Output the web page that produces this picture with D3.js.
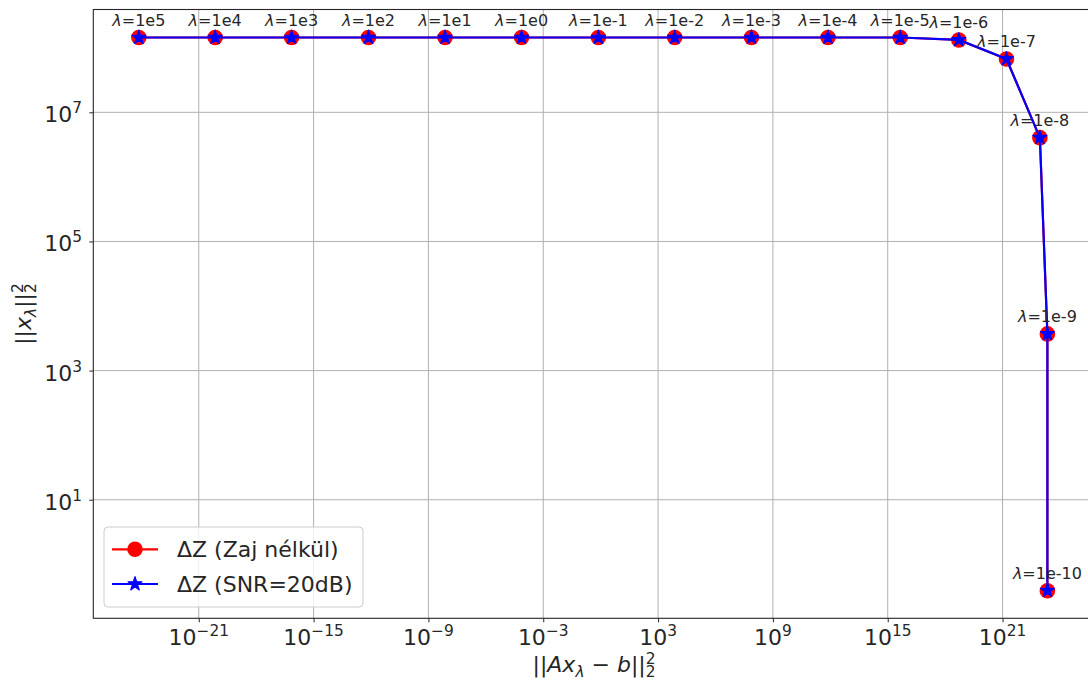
<!DOCTYPE html>
<html>
<head>
<meta charset="utf-8">
<script src="https://cdn.jsdelivr.net/npm/d3@7"></script>
<style>
    body { margin: 0; background: #fff; }
    svg { display: block; font-family: "DejaVu Sans", sans-serif; }
</style>
</head>
<body>
<svg id="chart" width="1088" height="683"></svg>
<script>
// lambda labels for each point of the L-curve
var lambdas = ["1e5","1e4","1e3","1e2","1e1","1e0","1e-1","1e-2","1e-3","1e-4","1e-5","1e-6","1e-7","1e-8","1e-9","1e-10"];

// residual norm ||Ax - b||^2
var residNoNoise = [7.4e-25, 7.2e-21, 7.1e-17, 7.4e-13, 7.4e-9, 7.4e-5, 0.76, 7.4e3, 7.6e7, 7.6e11, 4.5e15, 5.2e18, 1.6e21, 8.9e22, 2.2e23, 2.2e23];
var residSnr20 = [7.4e-25, 7.2e-21, 7.1e-17, 7.4e-13, 7.4e-9, 7.4e-5, 0.76, 7.4e3, 7.6e7, 7.6e11, 4.5e15, 5.2e18, 1.6e21, 8.9e22, 2.2e23, 2.2e23];

// solution norm ||x||^2
var normNoNoise = [1.44e8, 1.44e8, 1.44e8, 1.44e8, 1.44e8, 1.44e8, 1.44e8, 1.44e8, 1.44e8, 1.44e8, 1.44e8, 1.32e8, 6.7e7, 4.05e6, 3.7e3, 0.39];
var normSnr20 = [1.44e8, 1.44e8, 1.44e8, 1.44e8, 1.44e8, 1.44e8, 1.44e8, 1.44e8, 1.44e8, 1.44e8, 1.44e8, 1.32e8, 6.7e7, 4.05e6, 3.7e3, 0.39];

var xTickExps = [-21, -15, -9, -3, 3, 9, 15, 21];
var yTickExps = [1, 3, 5, 7];
var seriesNames = ["\u0394Z (Zaj nélkül)", "\u0394Z (SNR=20dB)"];

(function(){
    var svg = d3.select("#chart");
    var left = 93.3, right = 1095, top = 9.5, bottom = 618.3;

    var x = d3.scaleLog().domain([Math.pow(10, -26.51), Math.pow(10, 25.83)]).range([left, right]);
    var y = d3.scaleLog().domain([Math.pow(10, -0.836), Math.pow(10, 8.592)]).range([bottom, top]);

    svg.append("defs").append("clipPath").attr("id", "plotclip")
        .append("rect").attr("x", left).attr("y", top)
        .attr("width", right - left).attr("height", bottom - top);

    // grid
    var grid = svg.append("g");
    grid.selectAll(".gx").data(xTickExps).enter().append("line")
        .attr("x1", function(d){ return x(Math.pow(10, d)); })
        .attr("x2", function(d){ return x(Math.pow(10, d)); })
        .attr("y1", top).attr("y2", bottom)
        .attr("stroke", "#b0b0b0").attr("stroke-width", 1);
    grid.selectAll(".gy").data(yTickExps).enter().append("line")
        .attr("y1", function(d){ return y(Math.pow(10, d)); })
        .attr("y2", function(d){ return y(Math.pow(10, d)); })
        .attr("x1", left).attr("x2", right)
        .attr("stroke", "#b0b0b0").attr("stroke-width", 1);

    // axes (ticks drawn by d3, labels drawn by hand as 10^n)
    var xAxis = d3.axisBottom(x).tickValues(xTickExps.map(function(e){ return Math.pow(10, e); }))
        .tickSize(4).tickFormat("");
    var yAxis = d3.axisLeft(y).tickValues(yTickExps.map(function(e){ return Math.pow(10, e); }))
        .tickSize(4).tickFormat("");
    var gx = svg.append("g").attr("transform", "translate(0," + bottom + ")").call(xAxis);
    var gy = svg.append("g").attr("transform", "translate(" + left + ",0)").call(yAxis);
    gx.select(".domain").remove();
    gy.select(".domain").remove();
    svg.selectAll(".tick line").attr("stroke", "#262626").attr("stroke-width", 1);

    // spines
    svg.append("rect").attr("x", left).attr("y", top)
        .attr("width", right - left).attr("height", bottom - top)
        .attr("fill", "none").attr("stroke", "#262626").attr("stroke-width", 1.1);

    function powLabel(sel, e) {
        sel.append("tspan").text("10");
        sel.append("tspan").attr("dy", -9).attr("font-size", 15.4)
            .text(e < 0 ? "\u2212" + (-e) : "" + e);
    }

    xTickExps.forEach(function(e){
        var t = svg.append("text").attr("x", x(Math.pow(10, e))).attr("y", bottom + 27)
            .attr("text-anchor", "middle").attr("font-size", 22).attr("fill", "#262626");
        powLabel(t, e);
    });
    yTickExps.forEach(function(e){
        var t = svg.append("text").attr("x", 82).attr("y", y(Math.pow(10, e)) + 10)
            .attr("text-anchor", "end").attr("font-size", 22).attr("fill", "#262626");
        powLabel(t, e);
    });

    // axis labels
    var xl = svg.append("text").attr("x", 594).attr("y", 672)
        .attr("text-anchor", "middle").attr("font-size", 22).attr("fill", "#262626");
    xl.append("tspan").text("||");
    xl.append("tspan").attr("font-style", "italic").text("Ax");
    xl.append("tspan").attr("font-style", "italic").attr("font-size", 15.4).attr("dy", 5).text("\u03bb");
    xl.append("tspan").attr("dy", -5).text(" \u2212 ");
    xl.append("tspan").attr("font-style", "italic").text("b");
    xl.append("tspan").text("||");
    xl.append("tspan").attr("font-size", 15.4).attr("dy", -8).text("2");
    xl.append("tspan").attr("font-size", 15.4).attr("dx", -9.8).attr("dy", 13).text("2");

    var yl = svg.append("text").attr("transform", "translate(31,314) rotate(-90)")
        .attr("text-anchor", "middle").attr("font-size", 22).attr("fill", "#262626");
    yl.append("tspan").text("||");
    yl.append("tspan").attr("font-style", "italic").text("x");
    yl.append("tspan").attr("font-style", "italic").attr("font-size", 15.4).attr("dy", 5).text("\u03bb");
    yl.append("tspan").attr("dy", -5).text("||");
    yl.append("tspan").attr("font-size", 15.4).attr("dy", -8).text("2");
    yl.append("tspan").attr("font-size", 15.4).attr("dx", -9.8).attr("dy", 13).text("2");

    // data
    var red = residNoNoise.map(function(d, i){ return {x: d, y: normNoNoise[i], lab: lambdas[i]}; });
    var blue = residSnr20.map(function(d, i){ return {x: d, y: normSnr20[i], lab: lambdas[i]}; });
    var line = d3.line().x(function(d){ return x(d.x); }).y(function(d){ return y(d.y); });
    var star = d3.symbol().type(d3.symbolStar).size(60);

    var plot = svg.append("g").attr("clip-path", "url(#plotclip)");
    plot.append("path").datum(red).attr("d", line)
        .attr("fill", "none").attr("stroke", "#ff0000").attr("stroke-width", 2.2);
    plot.selectAll(".dot").data(red).enter().append("circle")
        .attr("cx", function(d){ return x(d.x); }).attr("cy", function(d){ return y(d.y); })
        .attr("r", 7.8).attr("fill", "#ff0000");
    plot.append("path").datum(blue).attr("d", line)
        .attr("fill", "none").attr("stroke", "#0000ff").attr("stroke-width", 2.2);
    plot.selectAll(".star").data(blue).enter().append("path")
        .attr("d", star).attr("fill", "#0000ff").attr("stroke", "#0000ff").attr("stroke-width", 1.2)
        .attr("stroke-linejoin", "round")
        .attr("transform", function(d){ return "translate(" + x(d.x) + "," + y(d.y) + ")"; });

    // lambda annotations
    red.forEach(function(d){
        var t = svg.append("text").attr("x", x(d.x)).attr("y", y(d.y) - 12)
            .attr("text-anchor", "middle").attr("font-size", 16).attr("fill", "#262626");
        t.append("tspan").attr("font-style", "italic").text("\u03bb");
        t.append("tspan").text("=" + d.lab);
    });

    // legend
    var lg = svg.append("g");
    lg.append("rect").attr("x", 104).attr("y", 527).attr("width", 259).attr("height", 80)
        .attr("rx", 4).attr("fill", "#fff").attr("fill-opacity", 0.8)
        .attr("stroke", "#cccccc").attr("stroke-width", 1);
    var rows = [549.3, 584];
    lg.append("line").attr("x1", 112).attr("x2", 158).attr("y1", rows[0]).attr("y2", rows[0])
        .attr("stroke", "#ff0000").attr("stroke-width", 2.2);
    lg.append("circle").attr("cx", 135).attr("cy", rows[0]).attr("r", 7.8).attr("fill", "#ff0000");
    lg.append("line").attr("x1", 112).attr("x2", 158).attr("y1", rows[1]).attr("y2", rows[1])
        .attr("stroke", "#0000ff").attr("stroke-width", 2.2);
    lg.append("path").attr("d", star).attr("fill", "#0000ff").attr("stroke", "#0000ff")
        .attr("stroke-width", 1.2).attr("stroke-linejoin", "round")
        .attr("transform", "translate(135," + rows[1] + ")");
    seriesNames.forEach(function(s, i){
        lg.append("text").attr("x", 177).attr("y", rows[i] + 8)
            .attr("font-size", 22).attr("fill", "#262626").text(s);
    });
})();
</script>
</body>
</html>
